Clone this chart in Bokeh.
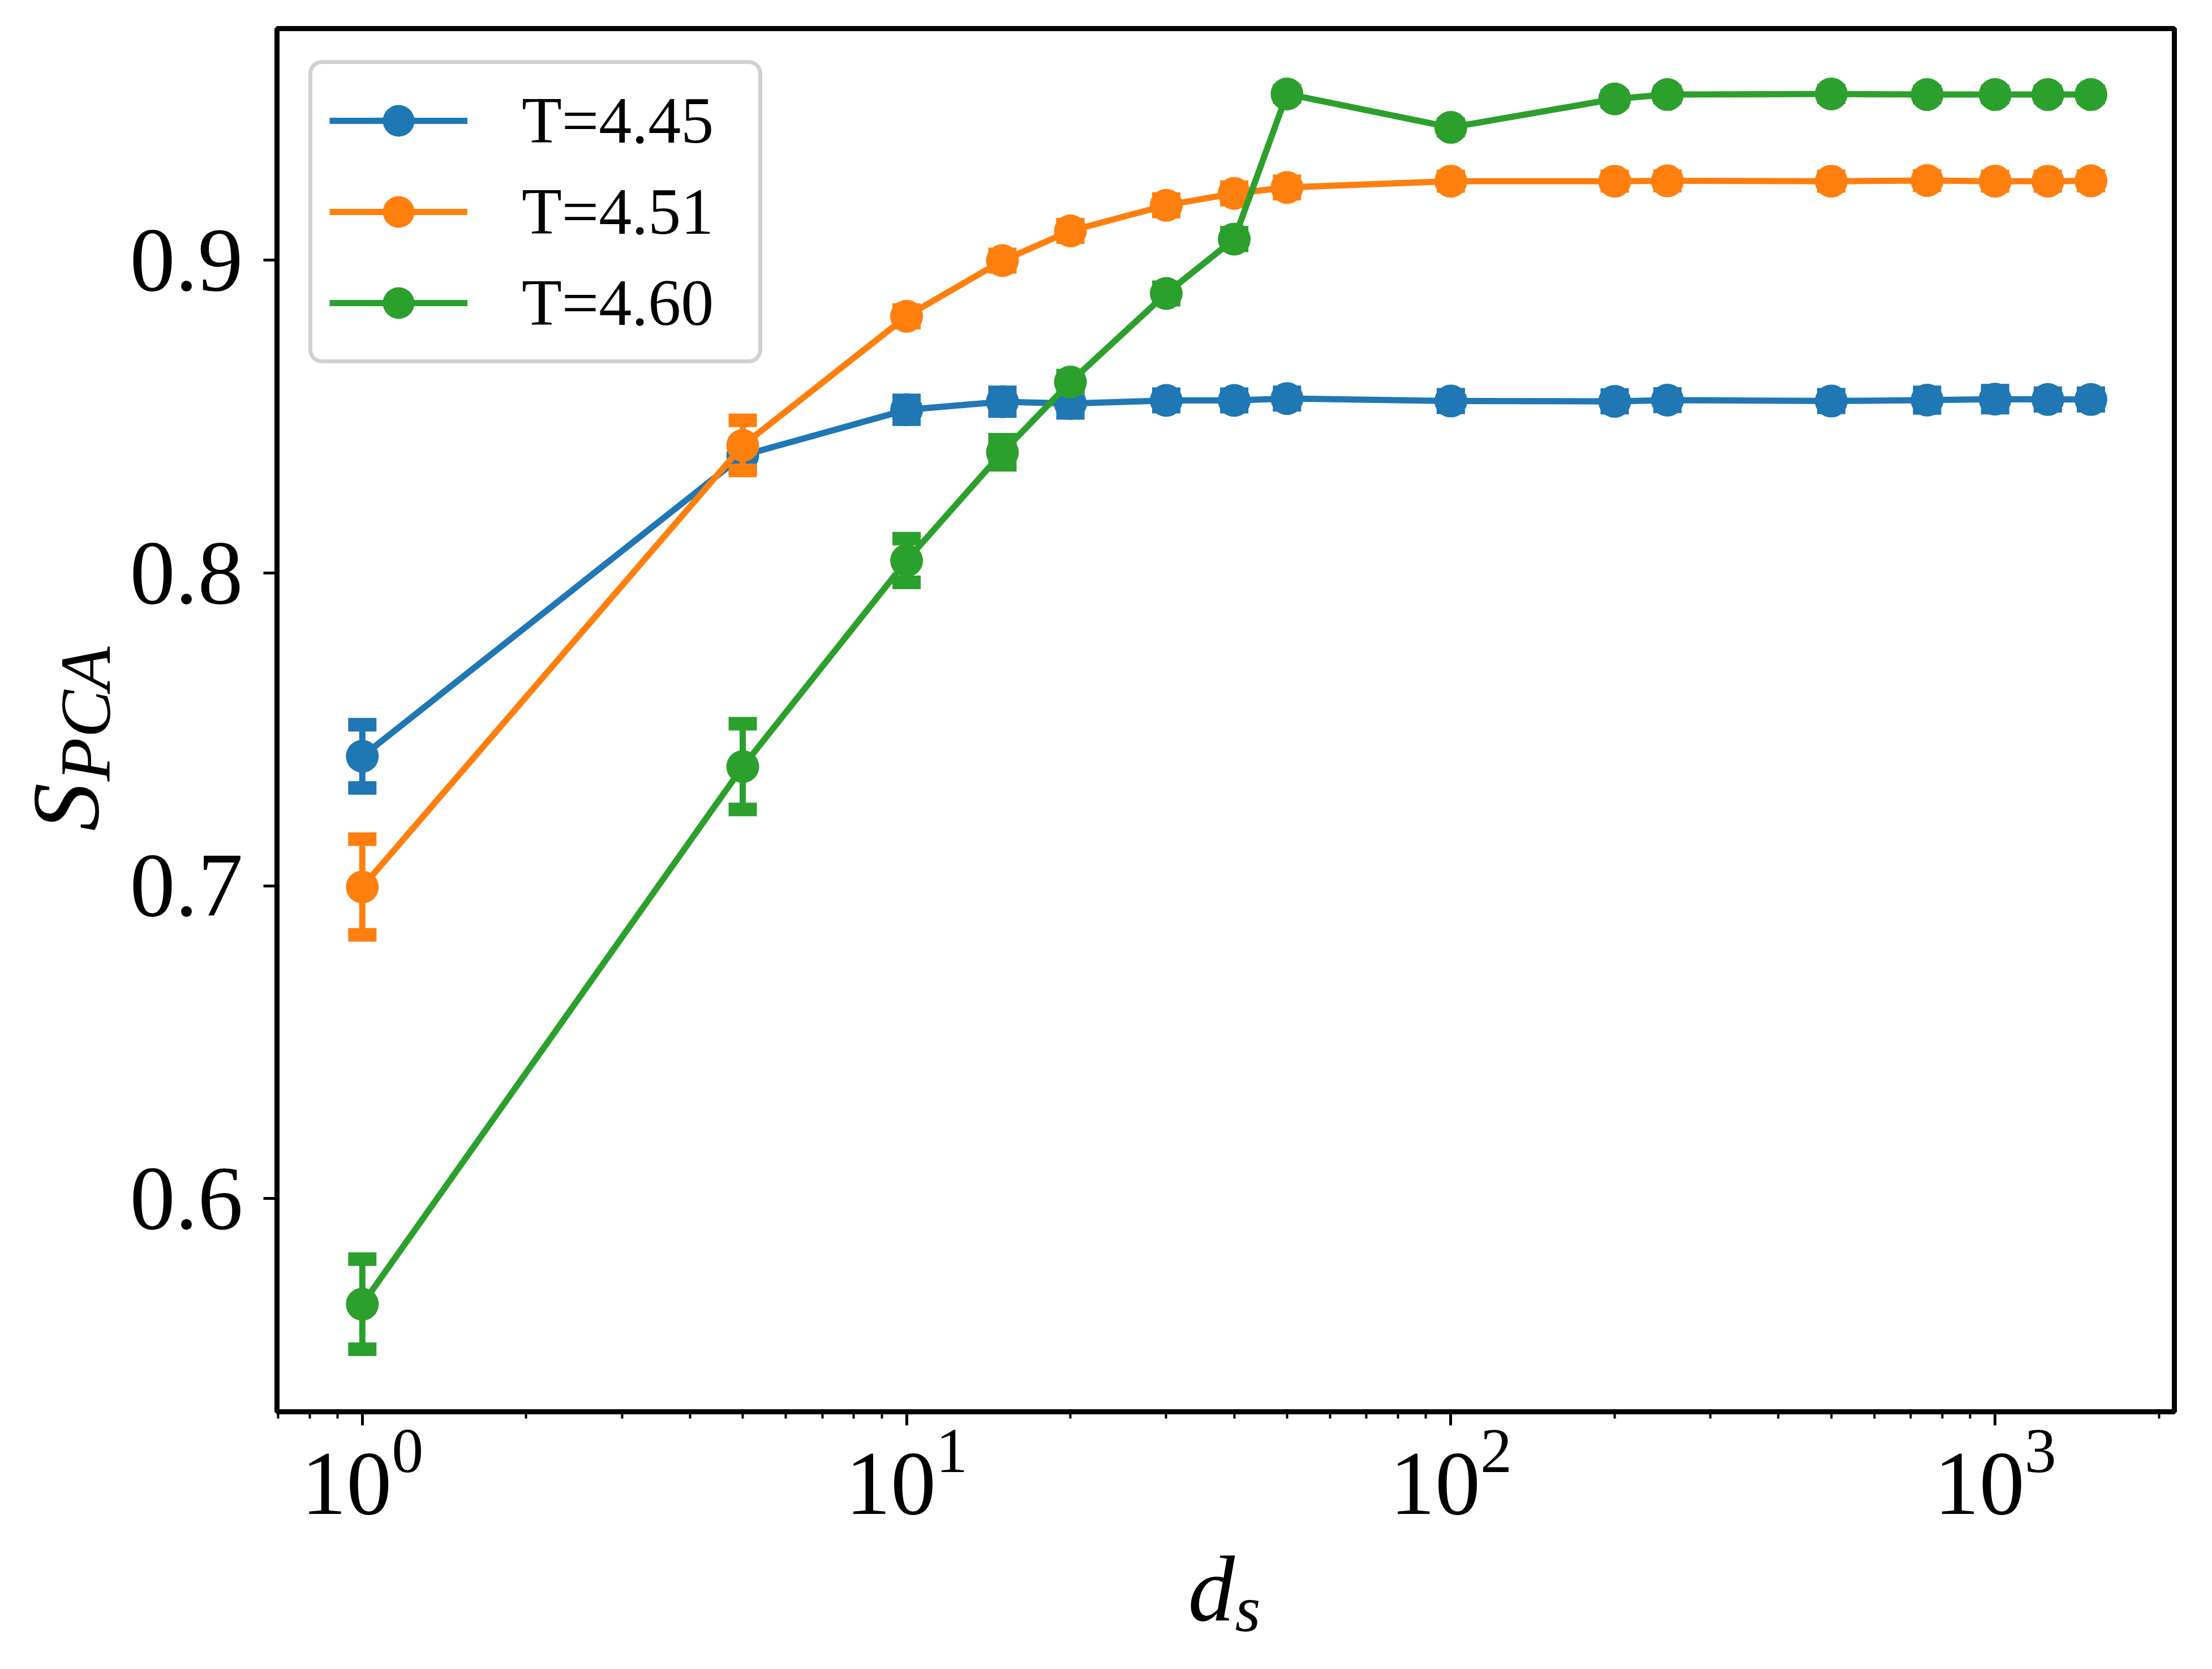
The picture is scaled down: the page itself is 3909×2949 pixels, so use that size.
import math
from bokeh.plotting import figure
from bokeh.layouts import column, row
from bokeh.models import (Range1d, FixedTicker, Legend, LegendItem, Label,
                          ColumnDataSource)
from bokeh.embed import file_html
from bokeh.resources import INLINE

# ---- data ----
ds = [1, 5, 10, 15, 20, 30, 40, 50, 100, 200, 250, 500, 750, 1000, 1250, 1500]

labels = ["T=4.45", "T=4.51", "T=4.60"]
colors = ["#1f77b4", "#ff7f0e", "#2ca02c"]

s_445 = [0.7414, 0.8376, 0.8522, 0.8548, 0.8542, 0.8552, 0.8552, 0.8558,
         0.8550, 0.8549, 0.8553, 0.8550, 0.8553, 0.8556, 0.8555, 0.8555]
e_445 = [0.0101, 0.0040, 0.0030, 0.0030, 0.0030, 0.0020, 0.0020, 0.0020,
         0.0020, 0.0020, 0.0020, 0.0020, 0.0025, 0.0027, 0.0020, 0.0020]

s_451 = [0.6996, 0.8408, 0.8821, 0.8999, 0.9094, 0.9176, 0.9214, 0.9233,
         0.9253, 0.9253, 0.9254, 0.9253, 0.9255, 0.9253, 0.9253, 0.9254]
e_451 = [0.0153, 0.0080, 0.0020, 0.0020, 0.0020, 0.0020, 0.0020, 0.0020,
         0.0015, 0.0015, 0.0015, 0.0015, 0.0015, 0.0015, 0.0015, 0.0015]

s_460 = [0.5662, 0.7381, 0.8040, 0.8386, 0.8611, 0.8894, 0.9068, 0.9532,
         0.9425, 0.9516, 0.9530, 0.9532, 0.9530, 0.9530, 0.9530, 0.9530]
e_460 = [0.0144, 0.0137, 0.0070, 0.0040, 0.0020, 0.0020, 0.0020, 0.0010,
         0.0010, 0.0010, 0.0010, 0.0010, 0.0010, 0.0010, 0.0010, 0.0010]

y_ticks = [0.6, 0.7, 0.8, 0.9]

series = [(labels[0], s_445, e_445, colors[0]),
          (labels[1], s_451, e_451, colors[1]),
          (labels[2], s_460, e_460, colors[2])]

FONT = "Liberation Serif"
TOTAL_W, TOTAL_H = 3890, 2930
YLAB_W = 226
MAIN_W = TOTAL_W - YLAB_W
MAIN_H = 2714
XLAB_H = TOTAL_H - MAIN_H

p = figure(width=MAIN_W, height=MAIN_H, x_axis_type="log",
           x_range=Range1d(0.697, 2135), y_range=Range1d(0.5318, 0.9741),
           output_backend="svg", toolbar_location=None,
           min_border_left=263, min_border_right=48,
           min_border_top=50, min_border_bottom=220)

p.background_fill_color = "white"
p.border_fill_color = "white"
p.outline_line_color = "black"
p.outline_line_width = 9
p.xgrid.visible = False
p.ygrid.visible = False

for ax in (p.xaxis[0], p.yaxis[0]):
    ax.axis_line_color = None
    ax.major_tick_in = 0
    ax.major_tick_out = 24
    ax.major_tick_line_width = 5
    ax.major_tick_line_color = "black"
    ax.minor_tick_in = 0
    ax.minor_tick_out = 12
    ax.minor_tick_line_width = 4
    ax.minor_tick_line_color = "black"
    ax.major_label_text_font = FONT
    ax.major_label_text_font_size = "160px"
    ax.major_label_text_color = "black"

p.yaxis[0].ticker = FixedTicker(ticks=y_ticks, minor_ticks=[])
p.yaxis[0].major_label_standoff = 36
p.xaxis[0].major_label_standoff = 8

items = []
for name, ys, es, color in series:
    src = ColumnDataSource(dict(
        x=ds, y=ys,
        lo=[y - e for y, e in zip(ys, es)],
        hi=[y + e for y, e in zip(ys, es)],
    ))
    p.segment(x0="x", y0="lo", x1="x", y1="hi", source=src,
              line_color=color, line_width=11)
    p.rect(x="x", y="hi", width=50, height=24, width_units="screen",
           height_units="screen", source=src, fill_color=color,
           line_color=None)
    p.rect(x="x", y="lo", width=50, height=24, width_units="screen",
           height_units="screen", source=src, fill_color=color,
           line_color=None)
    lr = p.line("x", "y", source=src, line_color=color, line_width=11,
                line_join="round")
    sr = p.scatter("x", "y", source=src, size=58, fill_color=color,
                   line_color=None)
    items.append(LegendItem(label=name, renderers=[lr, sr]))

legend = Legend(items=items, location="top_left", margin=56, padding=30,
                spacing=21, glyph_width=244, glyph_height=140,
                label_standoff=96, label_width=388,
                label_text_font=FONT, label_text_font_size="116px",
                label_text_color="black",
                border_line_color="#cccccc", border_line_width=7,
                border_line_alpha=0.9,
                background_fill_color="white", background_fill_alpha=0.8)
if "border_radius" in Legend.properties():
    legend.border_radius = 24
p.add_layout(legend)


def blank(w, h):
    f = figure(width=w, height=h, x_range=Range1d(0, 1), y_range=Range1d(0, 1),
               output_backend="svg", toolbar_location=None,
               x_axis_location=None, y_axis_location=None,
               title_location=None, min_border=0)
    f.outline_line_color = None
    f.background_fill_color = "white"
    f.border_fill_color = "white"
    f.xgrid.visible = False
    f.ygrid.visible = False
    for g in f.grid:
        g.visible = False
    return f


# y axis label  S_PCA (rotated), in its own strip left of the plot
# (this strip's frame is aligned with the main frame by the row layout)
ylab = blank(YLAB_W, MAIN_H)
ylab.add_layout(Label(x=115, y=1026, x_units="screen", y_units="screen",
                      text="S", angle=math.pi / 2, text_font=FONT,
                      text_font_style="italic", text_font_size="170px",
                      text_color="black", text_align="left",
                      text_baseline="alphabetic"))
ylab.add_layout(Label(x=151, y=1114, x_units="screen", y_units="screen",
                      text="PCA", angle=math.pi / 2, text_font=FONT,
                      text_font_style="italic", text_font_size="126px",
                      text_color="black", text_align="left",
                      text_baseline="alphabetic"))

# x axis label  d_s, in its own strip below the plot
xlab = blank(TOTAL_W, XLAB_H)
xlab.add_layout(Label(x=2099, y=123, x_units="screen", y_units="screen",
                      text="d", text_font=FONT, text_font_style="italic",
                      text_font_size="165px", text_color="black",
                      text_align="left", text_baseline="alphabetic"))
xlab.add_layout(Label(x=2182, y=88, x_units="screen", y_units="screen",
                      text="s", text_font=FONT, text_font_style="italic",
                      text_font_size="116px", text_color="black",
                      text_align="left", text_baseline="alphabetic"))

layout = column(row(ylab, p, spacing=0), xlab, spacing=0)

open("out.html", "w").write(file_html(layout, INLINE))
